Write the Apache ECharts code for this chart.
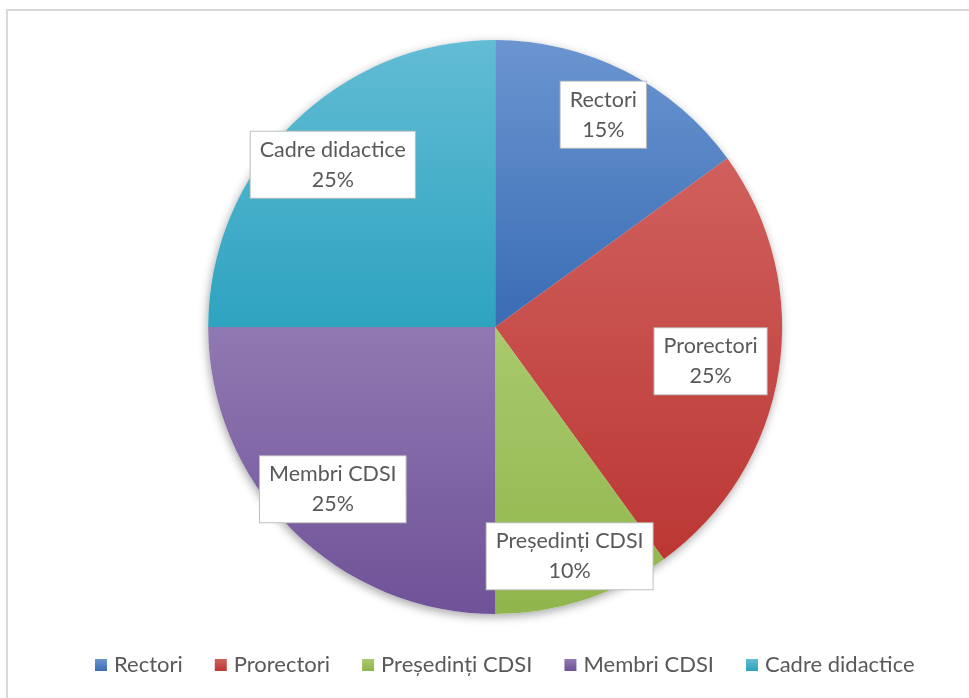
<!DOCTYPE html>
<html>
<head>
<meta charset="utf-8">
<script src="https://cdn.jsdelivr.net/npm/echarts@6/dist/echarts.min.js"></script>
<style>
html,body{margin:0;padding:0;background:#fff;}
#c{width:969px;height:698px;}
</style>
</head>
<body>
<div id="c"></div>
<script>
const categories = ['Rectori', 'Prorectori', 'Președinți CDSI', 'Membri CDSI', 'Cadre didactice'];
const values = [15, 25, 10, 25, 25];
const colorsTop = ['#6a95d0', '#d0605d', '#a9c96c', '#9079b2', '#62bcd4'];
const colorsBottom = ['#3a6cb4', '#bb3734', '#90b54c', '#6f5298', '#2ea3c0'];
const labelRadius = [0.83, 0.76, 0.84, 0.80, 0.80];

const FONT = 'Lato, "Liberation Sans", sans-serif';
const total = values.reduce((a, b) => a + b, 0);
const chart = echarts.init(document.getElementById('c'), null, {renderer: 'canvas'});
const CX = 0.511, CY = 0.4685, R = 287;

function grad(i) {
  return new echarts.graphic.LinearGradient(0, 0, 0, 1, [
    {offset: 0, color: colorsTop[i]},
    {offset: 1, color: colorsBottom[i]}
  ]);
}

const mainData = categories.map((n, i) => ({name: n, value: values[i], itemStyle: {color: grad(i)}}));
const shadowData = categories.map((n, i) => ({name: n, value: values[i]}));

const option = {
  backgroundColor: '#ffffff',
  animation: false,
  graphic: [{
    type: 'rect', silent: true, z: -10,
    shape: {x: 7, y: 10, width: 1200, height: 1200},
    style: {fill: 'none', stroke: '#d9d9d9', lineWidth: 2}
  }],
  legend: {
    data: categories,
    bottom: 17,
    left: 90,
    itemWidth: 12,
    itemHeight: 12,
    itemGap: 32,
    icon: 'rect',
    textStyle: {fontFamily: FONT, fontSize: 22, color: '#595959', padding: [0, 0, 0, 2]}
  },
  series: [
    {
      type: 'pie',
      name: 'main',
      z: 3,
      center: [(CX * 100) + '%', (CY * 100) + '%'],
      radius: R,
      startAngle: 90,
      clockwise: true,
      avoidLabelOverlap: false,
      itemStyle: {borderWidth: 0},
      emphasis: {disabled: true},
      label: {
        show: true,
        position: 'inside',
        formatter: '{b}\n{d}%',
        fontFamily: FONT,
        fontSize: 21.5,
        lineHeight: 30,
        color: '#595959',
        backgroundColor: '#ffffff',
        borderColor: '#bfbfbf',
        borderWidth: 1,
        padding: [3, 9, 3, 9],
        align: 'center'
      },
      labelLine: {show: false},
      labelLayout: function (p) {
        const idx = p.dataIndex;
        let cum = 0;
        for (let i = 0; i < idx; i++) cum += values[i];
        const mid = (cum + values[idx] / 2) / total * Math.PI * 2;
        const cx = chart.getWidth() * CX, cy = chart.getHeight() * CY;
        const r = R * labelRadius[idx];
        return {x: cx + r * Math.sin(mid), y: cy - r * Math.cos(mid), align: 'center', verticalAlign: 'middle'};
      },
      data: mainData
    },
    {
      type: 'pie',
      name: 'shadow',
      z: 1,
      silent: true,
      center: [(CX * 100) + '%', (CY * 100) + '%'],
      radius: R,
      startAngle: 90,
      legendHoverLink: false,
      label: {show: false},
      labelLine: {show: false},
      itemStyle: {color: '#ffffff', shadowBlur: 10, shadowColor: 'rgba(0,0,0,0.35)', shadowOffsetX: -1, shadowOffsetY: 3},
      emphasis: {disabled: true},
      data: shadowData
    }
  ]
};
chart.setOption(option);
</script>
</body>
</html>
